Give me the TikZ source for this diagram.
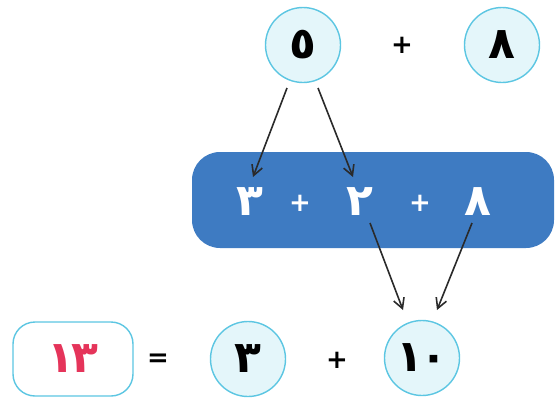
\documentclass[tikz,border=0pt]{standalone}
\usepackage{fontspec}
\usetikzlibrary{arrows.meta}
\newfontfamily\arfont[Script=Arabic]{DejaVu Sans}
\definecolor{cyanb}{HTML}{5CC6E2}
\definecolor{cfill}{HTML}{E4F6FA}
\definecolor{boxblue}{HTML}{3E7BC2}
\definecolor{numred}{HTML}{E5345A}
\definecolor{arrowc}{HTML}{2A2A2A}
\begin{document}
\begin{tikzpicture}[x=1pt,y=-1pt,
  circ/.style={circle,draw=cyanb,fill=cfill,line width=1.4pt,minimum size=75pt,inner sep=0pt},
  dig/.style={font=\arfont\bfseries\fontsize{44}{44}\selectfont,text=black,inner sep=0pt},
  wdig/.style={dig,text=white},
  op/.style={font=\arfont\bfseries\fontsize{26}{26}\selectfont,inner sep=0pt},
  bluebox/.style={rectangle,rounded corners=28pt,fill=boxblue,minimum width=362pt,minimum height=96pt,inner sep=0pt},
  resbox/.style={rectangle,rounded corners=22pt,draw=cyanb,fill=white,line width=1.4pt,minimum width=120pt,minimum height=74pt,inner sep=0pt},
  arr/.style={draw=arrowc,line width=1.6pt,-{Straight Barb[length=10pt,width=11pt]}}]
\useasboundingbox (0,0) rectangle (556,399);
% top row
\node[circ,dig] (c5) at (303,45) {٥};
\node[op] (p1) at (402,45) {+};
\node[circ,dig] (c8) at (502,45) {٨};
% blue box
\node[bluebox] (bx) at (373,200) {};
\node[wdig] (b3) at (250,202) {٣};
\node[op,text=white] (p2) at (300,203) {+};
\node[wdig] (b2) at (360,202) {٢};
\node[op,text=white] (p3) at (420,203) {+};
\node[wdig] (b8) at (478,202) {٨};
% bottom row
\node[resbox,dig,text=numred] (r13) at (73,359) {١\kern-3pt٣};
\node[op] (eq) at (158,360) {=};
\node[circ,dig] (c3) at (248,359) {٣};
\node[op] (p4) at (337,360) {+};
\node[circ,dig] (c10) at (422,358) {١\kern-3pt٠};
% arrows
\coordinate (a1s) at (287,88);
\coordinate (a1e) at (253,177);
\coordinate (a2s) at (318,88);
\coordinate (a2e) at (353,177);
\coordinate (a3s) at (370,223);
\coordinate (a3e) at (403,310);
\coordinate (a4s) at (472,223);
\coordinate (a4e) at (437,310);
\draw[arr] (a1s) -- (a1e);
\draw[arr] (a2s) -- (a2e);
\draw[arr] (a3s) -- (a3e);
\draw[arr] (a4s) -- (a4e);
\end{tikzpicture}
\end{document}
